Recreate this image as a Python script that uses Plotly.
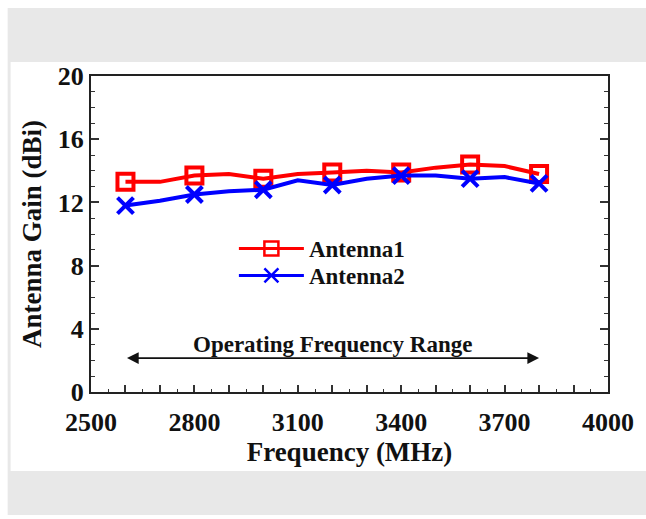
import plotly.graph_objects as go

# Measured gain (dBi) versus frequency, sampled every 100 MHz
freq_mhz = [2600, 2700, 2800, 2900, 3000, 3100, 3200, 3300, 3400, 3500, 3600, 3700, 3800]
gain_ant1 = [13.3, 13.3, 13.7, 13.8, 13.5, 13.8, 13.9, 14.0, 13.9, 14.2, 14.4, 14.3, 13.8]
gain_ant2 = [11.8, 12.1, 12.5, 12.7, 12.8, 13.4, 13.1, 13.5, 13.7, 13.7, 13.5, 13.6, 13.2]

band_edges = [2600, 3800]          # operating band limits (MHz)
band_label = "Operating Frequency Range"
band_arrow_level = 2.15            # dBi, height of the band arrow
band_label_level = 3.0

x_major = [2500, 2800, 3100, 3400, 3700, 4000]
y_major = [0, 4, 8, 12, 16, 20]

W, H = 646, 519
L, R, T, B = 91, 34, 76, 127
PW, PH = W - L - R, H - T - B


def px_x(p):
    return (p - L) / PW


def px_y(p):
    return (H - B - p) / PH


SERIF = "Liberation Serif, Times New Roman, serif"
INK = "#111111"

series = [
    ("Antenna1", gain_ant1, "#ff0000", "square-open", "legend", 227),
    ("Antenna2", gain_ant2, "#0000ff", "x-thin-open", "legend2", 254),
]

fig = go.Figure()
for name, gains, color, symbol, leg, _ in series:
    # continuous curve through all samples
    fig.add_trace(go.Scatter(
        x=freq_mhz, y=gains, mode="lines", showlegend=False,
        line=dict(color=color, width=4), hoverinfo="skip"))
    # markers every 200 MHz
    mx = [f for f in freq_mhz if f % 200 == 0]
    my = [g for f, g in zip(freq_mhz, gains) if f % 200 == 0]
    fig.add_trace(go.Scatter(
        x=mx, y=my, mode="markers", showlegend=False,
        marker=dict(symbol=symbol, size=16, color=color,
                    line=dict(color=color, width=4))))
    # legend entry
    fig.add_trace(go.Scatter(
        x=[None], y=[None], mode="lines+markers", name=name, legend=leg,
        line=dict(color=color, width=3),
        marker=dict(symbol=symbol, size=14, color=color,
                    line=dict(color=color, width=2.5))))

# dashed band-edge markers
for f in band_edges:
    fig.add_shape(type="line", xref="x", yref="paper", x0=f, x1=f, y0=0, y1=1,
                  line=dict(color="#a8a8a8", width=2, dash="24px,9px"), layer="below")

# double-headed arrow spanning the operating band
fig.add_annotation(x=band_edges[1], y=band_arrow_level, ax=band_edges[0], ay=band_arrow_level,
                   xref="x", yref="y", axref="x", ayref="y", text="", showarrow=True,
                   arrowhead=2, arrowside="end+start", arrowsize=1.3, arrowwidth=1.8,
                   arrowcolor=INK, standoff=0, startstandoff=0)
fig.add_annotation(x=sum(band_edges) / 2, y=band_label_level, xref="x", yref="y",
                   text=band_label, showarrow=False,
                   font=dict(family=SERIF, size=23, color=INK, weight="bold"))

# page frame: grey bands above and below the figure panel
fig.add_shape(type="rect", xref="paper", yref="paper", layer="below",
              x0=px_x(7), x1=px_x(W + 5), y0=px_y(8), y1=px_y(515),
              fillcolor="#e8e8e8", line_width=0)
fig.add_shape(type="rect", xref="paper", yref="paper", layer="below",
              x0=px_x(10), x1=px_x(W + 5), y0=px_y(62), y1=px_y(471),
              fillcolor="#ffffff", line_width=0)

legend_style = dict(xanchor="left", yanchor="top", bgcolor="rgba(0,0,0,0)",
                    borderwidth=0, itemwidth=65,
                    font=dict(family=SERIF, size=23, color=INK, weight="bold"))

fig.update_layout(
    width=W, height=H,
    margin=dict(l=L, r=R, t=T, b=B),
    paper_bgcolor="#ffffff", plot_bgcolor="rgba(0,0,0,0)",
    font=dict(family=SERIF, color=INK),
    showlegend=True,
)
for name, _, _, _, leg, top_px in series:
    fig.update_layout({leg: dict(x=px_x(235), y=px_y(top_px), **legend_style)})

fig.update_xaxes(
    range=[2500, 4000], showgrid=False, zeroline=False,
    showline=True, linecolor="#222222", linewidth=2, mirror=True,
    tickvals=list(range(2500, 4001, 100)),
    ticktext=[str(v) if v in x_major else "" for v in range(2500, 4001, 100)],
    ticks="inside", ticklen=7, tickwidth=1.5, tickcolor="#333333",
    minor=dict(dtick=50, ticks="inside", ticklen=3, tickwidth=1.2, tickcolor="#333333"),
    tickfont=dict(family=SERIF, size=26, color=INK, weight="bold"),
    ticklabelstandoff=6,
    title=dict(text="Frequency (MHz)", standoff=5,
               font=dict(family=SERIF, size=27, color=INK, weight="bold")),
)
fig.update_yaxes(
    range=[0, 20], showgrid=False, zeroline=False,
    showline=True, linecolor="#222222", linewidth=2, mirror="allticks",
    tickvals=y_major, ticks="inside", ticklen=8, tickwidth=1.5, tickcolor="#333333",
    minor=dict(dtick=1, ticks="inside", ticklen=4, tickwidth=1.2, tickcolor="#333333"),
    tickfont=dict(family=SERIF, size=26, color=INK, weight="bold"),
    title=dict(text="Antenna Gain (dBi)", standoff=8,
               font=dict(family=SERIF, size=27, color=INK, weight="bold")),
)

fig.write_html("out.html")
